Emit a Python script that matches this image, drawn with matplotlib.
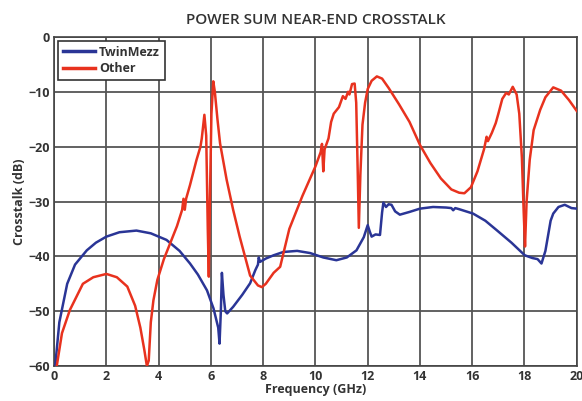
import matplotlib.pyplot as plt

plt.rcParams["font.family"] = ["Open Sans", "DejaVu Sans"]

# TwinMezz (blue) curve: frequency (GHz), crosstalk (dB)
f_twin = [0.04, 0.2, 0.5, 0.8, 1.25, 1.6, 2.0, 2.5, 3.15, 3.7, 4.3, 4.8, 5.2, 5.5, 5.85,
          6.1, 6.28, 6.33, 6.38, 6.42, 6.48, 6.55, 6.62, 6.85, 7.2, 7.5, 7.7, 7.8, 7.83,
          7.88, 8.1, 8.4, 8.77, 9.3, 9.8, 10.3, 10.8, 11.2, 11.57, 11.85, 12.0, 12.08,
          12.15, 12.3, 12.47, 12.55, 12.6, 12.7, 12.8, 12.91, 13.05, 13.23, 13.6, 14.0,
          14.5, 15.0, 15.2, 15.27, 15.35, 15.5, 16.03, 16.5, 16.93, 17.5, 18.01, 18.3,
          18.5, 18.65, 18.8, 19.0, 19.1, 19.3, 19.54, 19.8, 20.0]
db_twin = [-60, -52, -45, -41.5, -38.9, -37.5, -36.4, -35.6, -35.3, -35.8, -37, -39, -41.3,
           -43.3, -46.2, -49.5, -53, -55.9, -50, -43, -47, -50, -50.4, -49.2, -47, -44.9,
           -42.5, -41.5, -40.2, -41, -40.4, -39.8, -39.2, -39, -39.4, -40.2, -40.7, -40.2,
           -38.9, -36.5, -34.3, -35.5, -36.4, -36.0, -36.1, -32, -30.2, -31, -30.5, -30.6,
           -31.8, -32.4, -31.9, -31.3, -31.0, -31.1, -31.2, -31.6, -31.2, -31.4, -32.2,
           -33.5, -35.2, -37.5, -39.8, -40.3, -40.5, -41.3, -39, -33.5, -32.2, -31, -30.6,
           -31.2, -31.3]

# Other (red) curve
f_other = [0.1, 0.3, 0.6, 1.1, 1.5, 2.0, 2.4, 2.8, 3.1, 3.3, 3.45, 3.55, 3.62, 3.7, 3.8,
           3.95, 4.2, 4.45, 4.7, 4.9, 4.95, 5.0, 5.05, 5.2, 5.45, 5.6, 5.65, 5.75, 5.82,
           5.88, 5.92, 5.96, 6.02, 6.09, 6.15, 6.25, 6.35, 6.6, 6.85, 7.1, 7.5, 7.8, 7.95,
           8.1, 8.4, 8.65, 9.0, 9.5, 10.0, 10.2, 10.25, 10.3, 10.35, 10.5, 10.6, 10.7,
           10.9, 11.05, 11.15, 11.25, 11.3, 11.4, 11.5, 11.56, 11.62, 11.66, 11.72, 11.8,
           11.9, 12.0, 12.15, 12.35, 12.55, 12.8, 13.2, 13.6, 14.0, 14.4, 14.8, 15.2, 15.5,
           15.7, 15.95, 16.2, 16.45, 16.55, 16.6, 16.75, 16.9, 17.0, 17.15, 17.3, 17.4,
           17.55, 17.7, 17.8, 17.9, 17.97, 18.02, 18.08, 18.2, 18.35, 18.6, 18.8, 19.1,
           19.4, 19.7, 20.0]
db_other = [-60, -54, -49.8, -45, -43.8, -43.2, -43.8, -45.5, -49, -53, -57, -60, -59, -52,
            -48, -44.3, -40.5, -37.5, -34.5, -31.5, -29.5, -31.5, -29.5, -27, -22.4, -20,
            -18.5, -14.2, -18, -35, -43.7, -30, -14, -8.1, -10, -15, -19.4, -26, -31.5,
            -36.4, -43.5, -45.3, -45.6, -45, -43, -41.9, -35, -29, -23.6, -21, -19.5,
            -24.5, -20.5, -18.5, -15.5, -14, -12.8, -10.8, -11.3, -10.0, -10.5, -8.6, -8.5,
            -12, -25, -34.8, -25, -16, -12, -9.5, -8, -7.2, -7.6, -9.3, -12.3, -15.5,
            -19.7, -23, -25.8, -27.8, -28.4, -28.5, -27.4, -24.5, -20.5, -18.2, -19, -17.5,
            -15.7, -14, -11.3, -10.2, -10.5, -9.1, -10.5, -14, -22, -32, -38.2, -30, -22.4,
            -17, -13.3, -11, -9.2, -9.8, -11.5, -13.5]

x_ticks = list(range(0, 21, 2))
y_ticks = list(range(-60, 1, 10))

fig = plt.figure(figsize=(5.82, 4.01), dpi=100)
ax = fig.add_axes([0.093, 0.087, 0.898, 0.821])

ax.plot(f_twin, db_twin, color="#2a3596", lw=1.8, label="TwinMezz", zorder=3)
ax.plot(f_other, db_other, color="#e8321e", lw=1.8, label="Other", zorder=3)

ax.set_xlim(0, 20)
ax.set_ylim(-60, 0)
ax.set_xticks(x_ticks)
ax.set_yticks(y_ticks)
ax.grid(True, color="#555555", lw=1.3)
ax.tick_params(length=0, labelsize=9, colors="#333333", pad=3)
for lab in ax.get_xticklabels() + ax.get_yticklabels():
    lab.set_fontweight("bold")
for s in ax.spines.values():
    s.set_color("#444444")
    s.set_linewidth(1.2)

ax.set_xlabel("Frequency (GHz)", fontsize=9, fontweight="bold", color="#333333", labelpad=0)
ax.set_ylabel("Crosstalk (dB)", fontsize=9, fontweight="bold", color="#333333", labelpad=2)
ax.set_title("POWER SUM NEAR-END CROSSTALK", fontsize=11, fontweight="semibold",
             color="#333333", pad=9)

leg = ax.legend(loc="upper left", fontsize=9, fancybox=False, framealpha=1,
                edgecolor="#333333", borderaxespad=0.3, handlelength=2.6,
                handletextpad=0.3, borderpad=0.4, labelspacing=0.3)
leg.get_frame().set_linewidth(1.2)
for t in leg.get_texts():
    t.set_fontweight("bold")
    t.set_color("#333333")
for l in leg.get_lines():
    l.set_linewidth(2.5)

fig.savefig("out.png", dpi=100)
